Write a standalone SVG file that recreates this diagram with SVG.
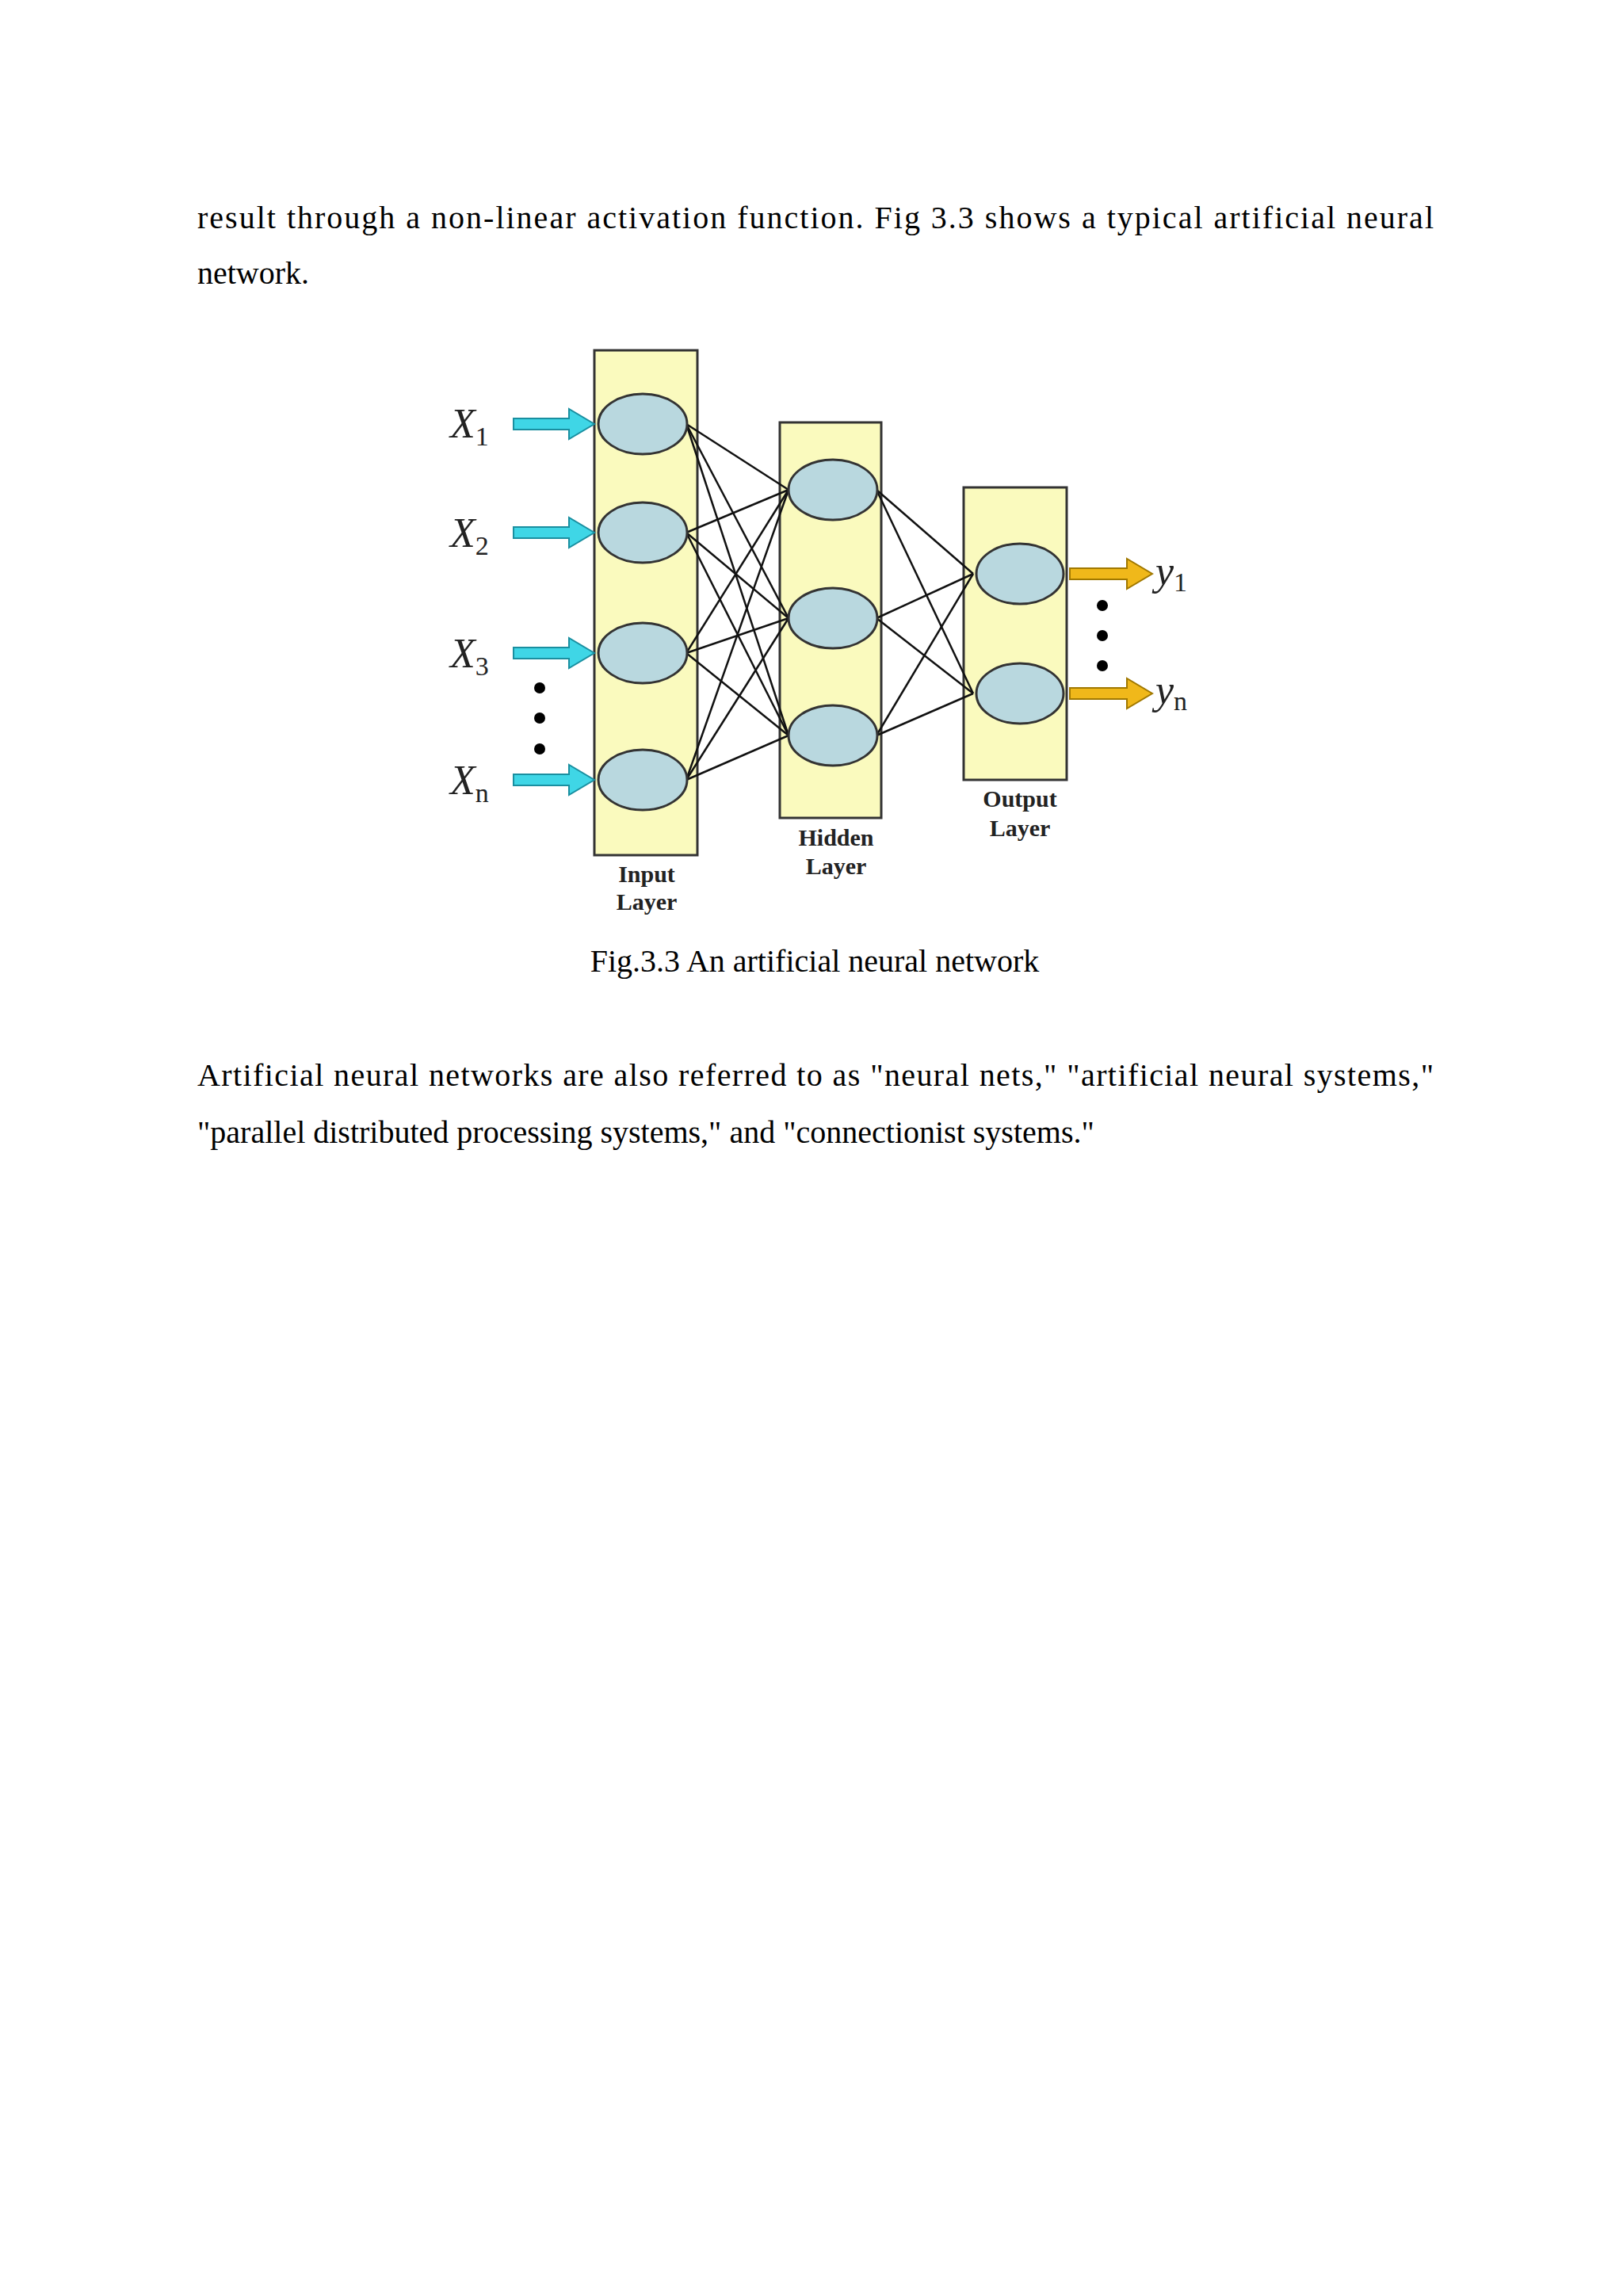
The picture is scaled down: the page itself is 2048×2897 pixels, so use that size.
<svg xmlns="http://www.w3.org/2000/svg" width="2048" height="2897" viewBox="0 0 2048 2897">
<style>
.t{font-family:"Liberation Serif",serif;font-size:40px;fill:#000}
.lay{fill:#fafabe;stroke:#333;stroke-width:3}
.n{fill:#b9d8df;stroke:#333;stroke-width:3}
.lb{font-family:"Liberation Serif",serif;font-size:30px;font-weight:bold;text-anchor:middle;fill:#222}
.x{font-family:"Liberation Serif",serif;font-size:52px;font-style:italic;fill:#222}
.s{font-size:34px;font-style:normal}
.c line{stroke:#111;stroke-width:2.5}
.ia{fill:#3fd6e6;stroke:#1a8fa0;stroke-width:2}
.oa{fill:#f0b81a;stroke:#a07800;stroke-width:2}
</style>
<rect width="2048" height="2897" fill="#fff"/>
<text class="t" x="249" y="288" textLength="1560" lengthAdjust="spacing">result through a non-linear activation function. Fig 3.3 shows a typical artificial neural</text>
<text class="t" x="249" y="358">network.</text>
<g id="layers">
<rect class="lay" x="750" y="442" width="130" height="637"/>
<rect class="lay" x="984" y="533" width="128" height="499"/>
<rect class="lay" x="1216" y="615" width="130" height="369"/>
</g>
<g class="c" id="connectors">
<line x1="866" y1="535" x2="995" y2="618"/><line x1="866" y1="535" x2="995" y2="780"/><line x1="866" y1="535" x2="995" y2="928"/>
<line x1="866" y1="672" x2="995" y2="618"/><line x1="866" y1="672" x2="995" y2="780"/><line x1="866" y1="672" x2="995" y2="928"/>
<line x1="866" y1="824" x2="995" y2="618"/><line x1="866" y1="824" x2="995" y2="780"/><line x1="866" y1="824" x2="995" y2="928"/>
<line x1="866" y1="984" x2="995" y2="618"/><line x1="866" y1="984" x2="995" y2="780"/><line x1="866" y1="984" x2="995" y2="928"/>
<line x1="1106" y1="618" x2="1228" y2="724"/><line x1="1106" y1="618" x2="1228" y2="875"/>
<line x1="1106" y1="780" x2="1228" y2="724"/><line x1="1106" y1="780" x2="1228" y2="875"/>
<line x1="1106" y1="928" x2="1228" y2="724"/><line x1="1106" y1="928" x2="1228" y2="875"/>
</g>
<g id="input-nodes">
<ellipse class="n" cx="811" cy="535" rx="56" ry="38"/>
<ellipse class="n" cx="811" cy="672" rx="56" ry="38"/>
<ellipse class="n" cx="811" cy="824" rx="56" ry="38"/>
<ellipse class="n" cx="811" cy="984" rx="56" ry="38"/>
</g>
<g id="hidden-nodes">
<ellipse class="n" cx="1051" cy="618" rx="56" ry="38"/>
<ellipse class="n" cx="1051" cy="780" rx="56" ry="38"/>
<ellipse class="n" cx="1051" cy="928" rx="56" ry="38"/>
</g>
<g id="output-nodes">
<ellipse class="n" cx="1287" cy="724" rx="55" ry="38"/>
<ellipse class="n" cx="1287" cy="875" rx="55" ry="38"/>
</g>
<g id="input-arrows">
<path class="ia" d="M648 528h70v-12l32 19-32 19v-12h-70z"/>
<path class="ia" d="M648 665h70v-12l32 19-32 19v-12h-70z"/>
<path class="ia" d="M648 817h70v-12l32 19-32 19v-12h-70z"/>
<path class="ia" d="M648 977h70v-12l32 19-32 19v-12h-70z"/>
</g>
<g id="output-arrows">
<path class="oa" d="M1350 717h72v-12l32 19-32 19v-12h-72z"/>
<path class="oa" d="M1350 868h72v-12l32 19-32 19v-12h-72z"/>
</g>
<g id="dots" fill="#000">
<circle cx="681" cy="868" r="7"/><circle cx="681" cy="906" r="7"/><circle cx="681" cy="945" r="7"/>
<circle cx="1391" cy="764" r="7"/><circle cx="1391" cy="802" r="7"/><circle cx="1391" cy="840" r="7"/>
</g>
<g id="labels">
<text class="x" x="568" y="552">X<tspan class="s" dy="10">1</tspan></text>
<text class="x" x="568" y="690">X<tspan class="s" dy="10">2</tspan></text>
<text class="x" x="568" y="842">X<tspan class="s" dy="10">3</tspan></text>
<text class="x" x="568" y="1002">X<tspan class="s" dy="10">n</tspan></text>
<text class="x" x="1458" y="738">y<tspan class="s" dy="8">1</tspan></text>
<text class="x" x="1458" y="888">y<tspan class="s" dy="8">n</tspan></text>
<text class="lb" x="816" y="1113">Input</text><text class="lb" x="816" y="1148">Layer</text>
<text class="lb" x="1055" y="1067">Hidden</text><text class="lb" x="1055" y="1103">Layer</text>
<text class="lb" x="1287" y="1018">Output</text><text class="lb" x="1287" y="1055">Layer</text>
</g>
<text class="t" x="1028" y="1226" text-anchor="middle">Fig.3.3 An artificial neural network</text>
<text class="t" x="249" y="1370" textLength="1560" lengthAdjust="spacing">Artificial neural networks are also referred to as "neural nets," "artificial neural systems,"</text>
<text class="t" x="249" y="1442">"parallel distributed processing systems," and "connectionist systems."</text>
</svg>
